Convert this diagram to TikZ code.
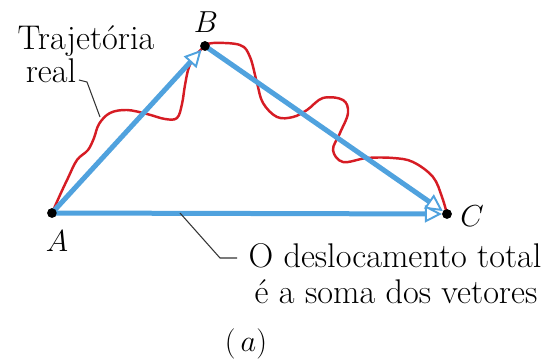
\documentclass[tikz,border=0pt]{standalone}
\usepackage{amsmath,amssymb}
\usepackage{tikz}
\usetikzlibrary{arrows.meta}
\definecolor{azulvetor}{RGB}{80,162,222}
\definecolor{vermelho}{RGB}{214,28,36}

\begin{document}
\begin{tikzpicture}[x=0.02cm,y=-0.02cm,
        vetor/.style={azulvetor,line width=0.1cm,-{Triangle[open,fill=white,length=0.34cm,width=0.34cm,line width=1.1pt]}},
        trajetoria/.style={vermelho,line width=1.4pt},
        ponto/.style={circle,fill=black,inner sep=0pt,minimum size=0.19cm},
        chamada/.style={black!80,line width=0.6pt},
        texto/.style={font=\fontsize{19.5}{23}\selectfont,inner sep=0pt,anchor=base},
        rotulo/.style={font=\fontsize{17}{20}\selectfont,inner sep=0pt}]
        \useasboundingbox (0,0) rectangle (552,361);
        \node[ponto] (A) at (52,213) {};
        \node[ponto] (B) at (205,46) {};
        \node[ponto] (C) at (447,214) {};
        \draw[trajetoria] plot[smooth,tension=0.6] coordinates {(52,213) (60,195) (68,178) (77,160) (88,150) (94,138) (99,124) (110,113) (127,110) (147,114) (165,119) (177,118) (182,104) (185,85) (189,67) (196,55) (205,46)};
        \draw[trajetoria] plot[smooth,tension=0.6] coordinates {(205,46) (213,43) (240,45) (250,57) (257,83) (263,103) (277,117) (293,117) (307,110) (323,98) (343,100) (348,113) (340,133) (333,150) (343,162) (367,158) (393,158) (413,162) (433,177) (442,197) (447,214)};
        \draw[vetor] (A.center) -- (B);
        \draw[vetor] (B.center) -- (C);
        \draw[vetor] (A.center) -- (C);
        \node[ponto] at (A) {};
        \node[ponto] at (B) {};
        \node[ponto] at (C) {};
        \node[rotulo] (lA) at (57,241) {$A$};
        \node[rotulo] (lB) at (206,22) {$B$};
        \node[rotulo] (lC) at (472,216) {$C$};
        \node[texto] (traj) at (86,50) {Trajetória};
        \node[texto] (real) at (51,83) {real};
        \node[texto] (desloc1) at (395,268) {O deslocamento total};
        \node[texto] (desloc2) at (396,304) {é a soma dos vetores};
        \node[rotulo,font=\fontsize{19}{22}\selectfont] (legenda) at (246,344) {$(\,a)$};
        \coordinate (pcurva) at (100,117);
        \coordinate (pbase) at (180,213);
        \draw[chamada] (79,80) -- (87,82) -- (pcurva);
        \draw[chamada] (pbase) -- (220,258) -- (237,258);
    \end{tikzpicture}
\end{document}
